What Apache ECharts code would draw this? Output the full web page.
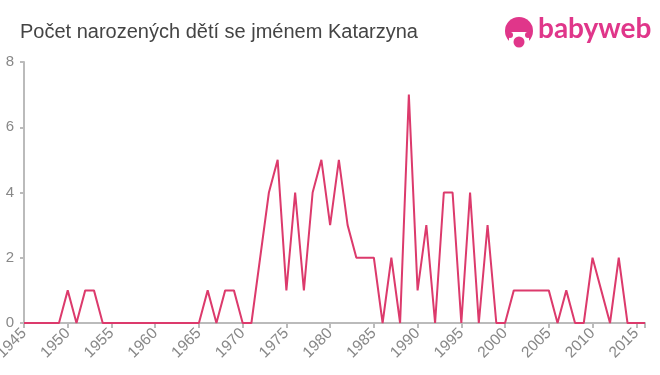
<!DOCTYPE html>
<html>
<head>
<meta charset="utf-8">
<script src="https://cdn.jsdelivr.net/npm/echarts@6/dist/echarts.min.js"></script>
<style>
html,body{margin:0;padding:0;background:#fff;}
#chart{width:660px;height:375px;}
</style>
</head>
<body>
<div id="chart"></div>
<script>
var titleText = "Počet narozených dětí se jménem Katarzyna";
var years = [];
for (var y = 1945; y <= 2016; y++) years.push(y);
var counts = [
  0,0,0,0,0,            // 1945-1949
  1,0,1,1,0,            // 1950-1954
  0,0,0,0,0,            // 1955-1959
  0,0,0,0,0,            // 1960-1964
  0,1,0,1,1,            // 1965-1969
  0,0,2,4,5,            // 1970-1974
  1,4,1,4,5,            // 1975-1979
  3,5,3,2,2,            // 1980-1984
  2,0,2,0,7,            // 1985-1989
  1,3,0,4,4,            // 1990-1994
  0,4,0,3,0,            // 1995-1999
  0,1,1,1,1,            // 2000-2004
  1,0,1,0,0,            // 2005-2009
  2,1,0,2,0,            // 2010-2014
  0,0                   // 2015-2016
];
var seriesData = years.map(function (yr, i) { return [yr, counts[i]]; });

var chart = echarts.init(document.getElementById('chart'), null, {renderer: 'canvas'});
chart.setOption({
  animation: false,
  backgroundColor: '#fff',
  title: {
    text: titleText,
    left: 15,
    top: 17,
    textStyle: {fontFamily: 'Liberation Sans, Arial, sans-serif', fontSize: 20, fontWeight: 'normal', color: '#444'}
  },
  graphic: [
    {type: 'circle', shape: {cx: 519, cy: 31, r: 14}, style: {fill: '#e0368a'}},
    {type: 'rect', shape: {x: 509, y: 32, width: 20, height: 16, r: 4}, style: {fill: '#fff'}},
    {type: 'circle', shape: {cx: 519, cy: 42, r: 5.5}, style: {fill: '#e0368a'}},
    {type: 'circle', shape: {cx: 510, cy: 35, r: 3}, style: {fill: '#e0368a'}},
    {type: 'circle', shape: {cx: 528, cy: 35, r: 3}, style: {fill: '#e0368a'}},
    {type: 'text', left: 538, top: 15, style: {text: 'babyweb', fill: '#e0368a', font: 'bold 28px "Lato", "Liberation Sans", sans-serif'}}
  ],
  grid: {left: 24, right: 15, top: 62, bottom: 52, containLabel: false, outerBoundsMode: 'none'},
  xAxis: {
    type: 'value',
    min: 1945,
    max: 2016,
    interval: 5,
    splitLine: {show: false},
    axisLine: {lineStyle: {color: '#bbb', width: 2}},
    axisTick: {show: true, length: 5, lineStyle: {color: '#bbb', width: 2}},
    axisLabel: {
      rotate: 45, margin: 8, color: '#888', fontSize: 15.5,
      fontFamily: 'Liberation Sans, Arial, sans-serif',
      formatter: function (v) { return v % 5 === 0 ? String(v) : ''; }
    }
  },
  yAxis: {
    type: 'value',
    min: 0,
    max: 8,
    interval: 2,
    splitLine: {show: false},
    axisLine: {show: true, lineStyle: {color: '#bbb', width: 2}},
    axisTick: {show: true, length: 4, lineStyle: {color: '#bbb', width: 2}},
    axisLabel: {margin: 10, color: '#888', fontSize: 15, fontFamily: 'Liberation Sans, Arial, sans-serif'}
  },
  series: [{
    type: 'line',
    data: seriesData,
    symbol: 'none',
    lineStyle: {color: '#dc3a6c', width: 2}
  }]
});
</script>
</body>
</html>
